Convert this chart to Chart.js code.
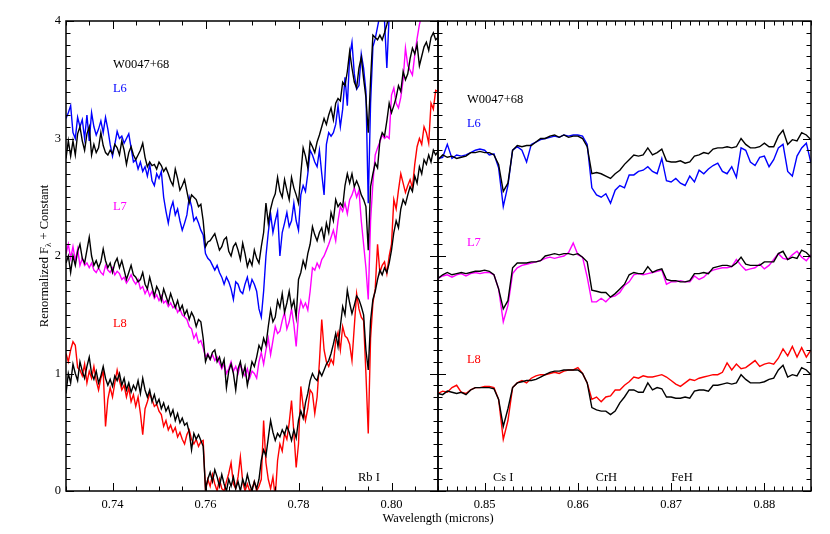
<!DOCTYPE html>
<html>
<head>
<meta charset="utf-8">
<script src="https://cdn.jsdelivr.net/npm/chart.js@4.4.1/dist/chart.umd.min.js"></script>
<style>
  body { margin: 0; background: #fff; }
  #wrap { position: relative; width: 830px; height: 534px; }
  #wrap canvas { position: absolute; left: 0; top: 0; }
</style>
</head>
<body>
<div id="wrap">
  <canvas id="left-chart" width="830" height="534"></canvas>
  <canvas id="right-chart" width="830" height="534"></canvas>
</div>
<script>
// wavelength grids (microns), sampled every 0.0005
const leftStart = 0.73, rightStart = 0.845, waveStep = 0.0005;
const leftCount = 161, rightCount = 81;

// tick labels
const leftTicks = [0.74, 0.76, 0.78, 0.80];
const rightTicks = [0.85, 0.86, 0.87, 0.88];
const yTicks = [0, 1, 2, 3, 4];

// left panel, 0.73 - 0.81
const leftL6 = [
  3.17,3.22,3.28,3.05,3.00,3.18,3.10,3.16,3.00,3.20,
  2.98,3.22,3.10,3.03,3.08,3.15,3.05,3.18,3.08,2.95,
  2.85,2.95,3.06,3.00,3.02,2.96,3.00,3.04,2.92,2.80,
  2.82,2.74,2.80,2.72,2.76,2.68,2.78,2.64,2.60,2.70,
  2.66,2.72,2.50,2.38,2.28,2.40,2.46,2.35,2.40,2.30,
  2.22,2.28,2.35,2.50,2.42,2.30,2.33,2.28,2.22,2.18,
  2.02,1.98,1.96,1.92,1.88,1.92,1.86,1.82,1.76,1.82,
  1.78,1.72,1.63,1.78,1.76,1.70,1.68,1.76,1.82,1.72,
  1.80,1.76,1.70,1.55,1.48,1.70,2.00,2.20,2.36,2.20,
  2.30,2.38,2.00,2.20,2.28,2.37,2.25,2.30,2.45,2.30,
  2.22,2.52,2.60,2.55,2.70,2.90,2.86,2.80,2.76,2.90,
  2.70,2.52,2.95,3.05,3.02,3.05,3.12,3.28,3.10,3.25,
  3.52,3.28,3.70,3.82,3.55,3.42,3.45,3.72,3.60,3.40,
  2.45,3.30,3.78,3.85,3.95,4.05,4.10,4.00,3.60,4.05,
  4.20,4.25,4.30,4.35,4.30,4.40,4.45,4.40,4.50,4.50,
  4.55,4.60,4.60,4.65,4.70,4.70,4.75,4.80,4.80,4.85,
  4.90
];
const leftW6 = [
  2.83,2.98,2.85,2.98,2.86,3.04,3.10,2.98,2.90,3.04,
  3.10,2.86,2.95,2.88,2.92,3.05,2.94,2.88,2.86,2.90,
  2.87,2.95,2.92,2.86,2.98,2.90,2.78,2.88,2.93,2.86,
  2.82,2.86,2.90,2.96,2.84,2.76,2.80,2.77,2.78,2.74,
  2.80,2.77,2.72,2.75,2.70,2.64,2.60,2.74,2.66,2.56,
  2.60,2.65,2.55,2.45,2.52,2.50,2.48,2.42,2.44,2.30,
  2.08,2.12,2.13,2.16,2.19,2.12,2.05,2.08,2.14,2.16,
  2.04,2.00,2.08,2.11,2.05,1.97,2.11,2.02,1.91,1.97,
  1.92,2.05,1.98,1.94,2.08,2.20,2.45,2.28,2.40,2.48,
  2.53,2.67,2.55,2.50,2.65,2.56,2.48,2.67,2.58,2.52,
  2.45,2.70,2.92,2.85,2.75,2.97,2.93,2.88,2.97,3.03,
  3.10,3.17,3.12,3.20,3.26,3.16,3.30,3.34,3.32,3.48,
  3.45,3.57,3.74,3.60,3.48,3.43,3.60,3.69,3.51,3.35,
  3.05,3.50,3.88,3.86,3.84,3.88,3.84,3.90,3.97,4.05,
  4.10,4.12,4.15,4.20,4.18,4.25,4.30,4.28,4.35,4.38,
  4.40,4.42,4.45,4.50,4.48,4.55,4.58,4.60,4.62,4.65,
  4.68
];
const leftL7 = [
  2.02,2.10,1.98,2.08,1.96,2.06,1.92,1.98,1.92,1.94,
  1.90,1.94,1.88,1.86,1.90,1.86,1.84,1.92,1.88,1.86,
  1.90,1.84,1.87,1.85,1.80,1.82,1.77,1.80,1.84,1.79,
  1.76,1.80,1.72,1.74,1.68,1.72,1.66,1.70,1.64,1.67,
  1.62,1.66,1.60,1.62,1.57,1.60,1.56,1.58,1.52,1.55,
  1.50,1.48,1.46,1.40,1.38,1.30,1.34,1.26,1.28,1.22,
  1.14,1.17,1.12,1.16,1.11,1.14,1.09,1.04,1.08,1.00,
  1.04,1.10,1.02,1.06,1.00,1.08,1.02,0.98,1.04,0.96,
  1.02,1.00,0.96,1.10,1.18,1.08,1.20,1.30,1.16,1.28,
  1.40,1.34,1.36,1.45,1.52,1.38,1.44,1.55,1.42,1.23,
  1.50,1.62,1.56,1.60,1.54,1.70,1.90,1.88,1.94,1.90,
  1.97,2.00,2.05,2.10,2.16,2.22,2.13,2.30,2.42,2.38,
  2.45,2.36,2.48,2.52,2.58,2.50,2.56,2.30,2.10,1.90,
  1.63,2.30,2.62,2.86,2.92,2.97,3.03,3.00,3.02,3.00,
  3.37,3.43,3.30,3.26,3.35,3.50,3.77,3.62,3.58,3.54,
  3.71,3.85,3.97,4.05,4.10,4.15,4.20,4.25,4.30,4.35,
  4.40
];
const leftW7 = [
  1.94,2.00,1.86,2.00,1.92,2.04,2.10,1.98,1.94,2.05,
  2.16,2.00,1.92,1.96,1.90,1.95,2.06,1.96,1.90,1.94,
  1.86,1.94,1.98,1.90,1.96,1.88,1.80,1.86,1.92,1.84,
  1.82,1.78,1.80,1.86,1.76,1.72,1.82,1.74,1.66,1.74,
  1.70,1.62,1.72,1.66,1.60,1.68,1.62,1.56,1.62,1.54,
  1.58,1.50,1.54,1.46,1.52,1.48,1.40,1.46,1.44,1.30,
  1.10,1.16,1.12,1.18,1.20,1.10,1.14,1.06,1.12,0.88,
  1.02,1.08,1.00,0.86,1.04,1.10,0.98,1.06,0.90,1.00,
  1.10,1.06,1.14,1.24,1.20,1.30,1.24,1.40,1.54,1.44,
  1.48,1.62,1.56,1.68,1.52,1.60,1.70,1.56,1.62,1.48,
  1.80,1.86,1.96,1.90,2.02,2.10,2.25,2.18,2.13,2.20,
  2.24,2.14,2.28,2.20,2.37,2.30,2.48,2.42,2.45,2.42,
  2.60,2.70,2.62,2.70,2.59,2.64,2.59,2.52,2.48,2.42,
  2.05,2.59,2.70,2.79,2.75,2.98,3.05,3.02,3.15,3.30,
  3.22,3.28,3.35,3.45,3.40,3.57,3.50,3.55,3.68,3.77,
  3.72,3.80,3.62,3.70,3.78,3.82,3.75,3.86,3.90,3.84,
  3.86
];
const leftL8 = [
  1.17,1.10,1.20,1.27,1.24,1.05,1.03,0.98,1.08,0.92,
  1.02,0.96,1.06,0.94,0.86,0.96,1.02,0.55,0.78,0.88,
  0.80,0.92,1.03,0.94,0.86,0.90,0.80,0.88,0.76,0.82,
  0.72,0.80,0.66,0.48,0.70,0.76,0.83,0.78,0.72,0.74,
  0.68,0.65,0.55,0.60,0.52,0.56,0.50,0.54,0.46,0.50,
  0.44,0.40,0.48,0.52,0.44,0.40,0.44,0.38,0.42,0.43,
  0.00,0.10,0.04,0.14,0.06,0.00,0.10,0.02,0.00,0.08,
  0.15,0.24,0.06,0.02,0.12,0.29,0.08,0.00,0.06,0.00,
  0.02,0.08,0.00,0.04,0.10,0.60,0.24,0.10,0.02,0.12,
  -0.05,0.26,0.40,0.34,0.49,0.44,0.58,0.77,0.50,0.20,
  0.40,0.89,0.72,0.60,0.70,0.86,0.83,0.66,0.80,1.10,
  1.46,1.20,1.10,1.06,1.12,1.08,1.28,1.35,1.20,1.40,
  1.32,1.30,1.25,1.11,1.40,1.68,1.55,1.48,1.45,1.00,
  0.49,1.30,1.60,1.72,2.10,1.86,1.92,1.95,1.85,2.00,
  2.10,2.48,2.40,2.56,2.70,2.62,2.54,2.60,2.65,2.58,
  2.78,2.93,3.00,2.95,3.10,3.05,2.96,3.30,3.25,3.41,
  3.40
];
const leftW8 = [
  0.83,1.00,0.92,1.08,1.00,0.94,1.10,1.02,0.96,1.06,
  1.14,1.00,0.95,1.02,0.92,0.98,1.06,0.96,0.90,0.95,
  0.89,0.98,0.94,1.00,0.90,0.96,0.86,0.92,0.84,0.90,
  0.86,0.94,0.83,0.96,0.86,0.80,0.86,0.76,0.82,0.74,
  0.78,0.70,0.75,0.68,0.72,0.64,0.69,0.60,0.66,0.58,
  0.62,0.56,0.58,0.50,0.35,0.49,0.44,0.48,0.43,0.38,
  0.02,0.10,0.16,0.08,0.18,0.12,0.04,0.14,0.06,0.00,
  0.10,0.04,0.12,0.02,0.08,0.00,0.10,0.04,0.14,0.06,
  0.00,0.08,0.02,0.10,0.26,0.35,0.30,0.45,0.60,0.50,
  0.43,0.49,0.46,0.52,0.48,0.55,0.50,0.43,0.52,0.45,
  0.60,0.68,0.62,0.75,0.83,0.94,1.00,0.96,0.94,1.02,
  0.98,1.03,1.08,1.11,1.17,1.25,1.34,1.23,1.40,1.57,
  1.50,1.71,1.60,1.51,1.58,1.66,1.63,1.57,1.50,1.20,
  1.03,1.45,1.63,1.70,1.80,1.88,1.84,1.90,1.86,1.94,
  2.05,2.20,2.30,2.24,2.40,2.48,2.44,2.52,2.59,2.55,
  2.68,2.62,2.76,2.70,2.82,2.78,2.86,2.80,2.90,2.86,
  2.89
];

// right panel, 0.845 - 0.885
const rightL6 = [
  2.83,2.84,2.95,2.83,2.86,2.85,2.86,2.88,2.90,2.91,
  2.90,2.86,2.87,2.75,2.42,2.60,2.90,2.93,2.90,2.80,
  2.95,2.97,2.99,3.00,3.01,3.02,3.01,3.03,3.02,3.03,
  3.03,3.02,2.95,2.58,2.52,2.50,2.53,2.45,2.56,2.60,
  2.58,2.69,2.69,2.72,2.73,2.76,2.72,2.70,2.83,2.64,
  2.63,2.66,2.62,2.60,2.68,2.63,2.73,2.70,2.74,2.77,
  2.79,2.72,2.70,2.76,2.67,2.92,2.90,2.80,2.77,2.84,
  2.85,2.76,2.82,2.92,2.95,2.72,2.68,2.85,2.92,2.96,
  2.79
];
const rightW6 = [
  2.82,2.86,2.84,2.85,2.83,2.84,2.85,2.88,2.88,2.89,
  2.88,2.88,2.86,2.78,2.55,2.62,2.90,2.94,2.93,2.94,
  2.94,2.97,3.00,3.00,3.02,3.03,3.01,3.03,3.01,3.02,
  3.02,3.00,2.93,2.70,2.71,2.70,2.68,2.66,2.70,2.73,
  2.78,2.82,2.86,2.85,2.86,2.92,2.86,2.88,2.91,2.81,
  2.80,2.80,2.81,2.79,2.80,2.85,2.86,2.88,2.87,2.91,
  2.92,2.92,2.93,2.92,2.93,3.00,2.95,2.92,2.92,2.93,
  2.96,2.93,2.93,3.02,3.07,2.95,2.99,2.98,3.05,3.03,
  2.99
];
const rightL7 = [
  1.81,1.83,1.84,1.82,1.84,1.85,1.83,1.85,1.86,1.85,
  1.86,1.86,1.84,1.72,1.44,1.58,1.85,1.90,1.92,1.93,
  1.94,1.95,1.96,1.98,1.99,1.98,1.99,2.00,2.03,2.11,
  2.01,1.99,1.82,1.61,1.61,1.64,1.61,1.65,1.66,1.69,
  1.75,1.78,1.84,1.85,1.84,1.85,1.86,1.87,1.88,1.76,
  1.78,1.78,1.79,1.78,1.78,1.83,1.80,1.82,1.86,1.88,
  1.89,1.90,1.90,1.91,1.97,1.92,1.88,1.89,1.90,1.93,
  1.89,1.92,1.97,2.02,1.98,1.97,2.01,2.04,1.99,1.96,
  2.01
];
const rightW7 = [
  1.81,1.84,1.86,1.84,1.85,1.86,1.85,1.86,1.87,1.87,
  1.88,1.87,1.84,1.72,1.55,1.62,1.90,1.94,1.94,1.94,
  1.95,1.95,1.96,2.00,2.01,2.02,2.01,2.02,2.02,2.01,
  2.02,1.99,1.95,1.71,1.70,1.69,1.69,1.65,1.68,1.72,
  1.76,1.84,1.86,1.85,1.85,1.91,1.86,1.88,1.89,1.80,
  1.79,1.79,1.78,1.78,1.79,1.85,1.85,1.86,1.85,1.90,
  1.91,1.92,1.92,1.91,1.94,1.99,1.93,1.92,1.92,1.92,
  1.95,1.95,1.95,2.02,2.04,1.97,1.99,1.98,2.05,2.03,
  1.99
];
const rightL8 = [
  0.83,0.85,0.84,0.88,0.90,0.84,0.83,0.86,0.88,0.88,
  0.89,0.89,0.88,0.78,0.44,0.60,0.88,0.92,0.94,0.92,
  0.96,0.98,0.99,0.99,1.00,1.01,1.00,1.02,1.03,1.03,
  1.05,1.00,0.92,0.78,0.80,0.76,0.80,0.81,0.86,0.86,
  0.90,0.93,0.97,0.96,0.98,0.97,0.97,0.98,0.99,0.97,
  0.94,0.91,0.89,0.92,0.95,0.94,0.96,0.97,0.98,0.99,
  0.99,1.01,1.09,1.03,1.08,1.04,1.05,1.08,1.11,1.06,
  1.08,1.09,1.08,1.13,1.21,1.15,1.23,1.14,1.22,1.14,
  1.20
];
const rightW8 = [
  0.83,0.82,0.85,0.84,0.83,0.84,0.82,0.86,0.88,0.88,
  0.88,0.88,0.87,0.78,0.55,0.70,0.88,0.92,0.93,0.94,
  0.94,0.95,0.97,0.99,1.01,1.02,1.02,1.03,1.03,1.03,
  1.03,1.00,0.92,0.71,0.69,0.68,0.68,0.65,0.68,0.75,
  0.80,0.86,0.86,0.84,0.84,0.92,0.86,0.88,0.87,0.80,
  0.80,0.79,0.79,0.80,0.79,0.85,0.86,0.86,0.85,0.90,
  0.90,0.91,0.92,0.91,0.92,0.99,0.95,0.92,0.92,0.92,
  0.93,0.95,0.96,1.03,1.07,0.97,0.99,0.98,1.05,1.03,
  0.99
];

// text labels: [text, wavelength, value, colour]
const leftNotes = [
  ['W0047+68', 0.7401, 3.60, '#000'],
  ['L6', 0.7401, 3.40, '#0000ff'],
  ['L7', 0.7401, 2.39, '#ff00ff'],
  ['L8', 0.7401, 1.40, '#ff0000'],
  ['Rb I', 0.7928, 0.085, '#000']
];
const rightNotes = [
  ['W0047+68', 0.8481, 3.30, '#000'],
  ['L6', 0.8481, 3.10, '#0000ff'],
  ['L7', 0.8481, 2.085, '#ff00ff'],
  ['L8', 0.8481, 1.09, '#ff0000'],
  ['Cs I', 0.8509, 0.085, '#000'],
  ['CrH', 0.8619, 0.085, '#000'],
  ['FeH', 0.8700, 0.085, '#000']
];

const serif = '"Liberation Serif", "Times New Roman", serif';
const fontSize = 12.5;
const colL6 = '#0000ff', colL7 = '#ff00ff', colL8 = '#ff0000', colW = '#000000';

const leftWave = Array.from({ length: leftCount }, (_, i) => +(leftStart + waveStep * i).toFixed(4));
const rightWave = Array.from({ length: rightCount }, (_, i) => +(rightStart + waveStep * i).toFixed(4));

function toPoints(wave, vals) {
  return vals.map((v, i) => ({ x: wave[i], y: v }));
}

function spectrum(wave, vals, color, order) {
  return {
    data: toPoints(wave, vals),
    borderColor: color,
    borderWidth: 1.4,
    pointRadius: 0,
    tension: 0,
    fill: false,
    order: order
  };
}

// frame with inward ticks on all four sides
function framePlugin(xMinor, xMajor) {
  return {
    id: 'frame',
    afterDatasetsDraw(chart) {
      const { ctx, chartArea: a, scales: { x, y } } = chart;
      ctx.save();
      ctx.strokeStyle = '#000';
      ctx.lineWidth = 1;
      ctx.beginPath();
      for (let k = 0; k <= 40; k++) {
        const py = Math.round(y.getPixelForValue(k / 10)) + 0.5;
        const len = k % 10 === 0 ? 8 : 4.5;
        ctx.moveTo(a.left, py); ctx.lineTo(a.left + len, py);
        ctx.moveTo(a.right, py); ctx.lineTo(a.right - len, py);
      }
      const n = Math.round((x.max - x.min) / xMinor);
      for (let k = 0; k <= n; k++) {
        const v = x.min + k * xMinor;
        const r = v / xMajor;
        const major = Math.abs(r - Math.round(r)) < 1e-6;
        const px = Math.round(x.getPixelForValue(v)) + 0.5;
        const len = major ? 8 : 4.5;
        ctx.moveTo(px, a.bottom); ctx.lineTo(px, a.bottom - len);
        ctx.moveTo(px, a.top); ctx.lineTo(px, a.top + len);
      }
      ctx.stroke();
      ctx.lineWidth = 1.5;
      ctx.strokeRect(a.left, a.top, a.right - a.left, a.bottom - a.top);
      ctx.restore();
    }
  };
}

function notesPlugin(notes, withTitles) {
  return {
    id: 'notes',
    afterDraw(chart) {
      const { ctx, scales: { x, y } } = chart;
      ctx.save();
      ctx.font = fontSize + 'px ' + serif;
      ctx.textBaseline = 'alphabetic';
      ctx.textAlign = 'left';
      notes.forEach(([t, wx, wy, c]) => {
        ctx.fillStyle = c;
        ctx.fillText(t, x.getPixelForValue(wx), y.getPixelForValue(wy));
      });
      if (withTitles) {
        ctx.fillStyle = '#000';
        ctx.textAlign = 'center';
        ctx.fillText('Wavelength (microns)', 438, 522);
        // rotated y title with subscript lambda
        const parts = [['Renormalized F', fontSize, 0], ['\u03bb', 9, 3], [' + Constant', fontSize, 0]];
        let total = 0;
        parts.forEach(p => { ctx.font = p[1] + 'px ' + serif; p.push(ctx.measureText(p[0]).width); total += p[3]; });
        ctx.translate(43, 256);
        ctx.rotate(-Math.PI / 2);
        ctx.textAlign = 'left';
        let cx = -total / 2;
        parts.forEach(p => {
          ctx.font = p[1] + 'px ' + serif;
          ctx.fillText(p[0], cx, 4.5 + p[2]);
          cx += p[3];
        });
      }
      ctx.restore();
    }
  };
}

const tickFont = { family: serif, size: fontSize };

new Chart(document.getElementById('left-chart'), {
  type: 'line',
  data: {
    datasets: [
      spectrum(leftWave, leftW6, colW, 0),
      spectrum(leftWave, leftW7, colW, 0),
      spectrum(leftWave, leftW8, colW, 0),
      spectrum(leftWave, leftL6, colL6, 1),
      spectrum(leftWave, leftL7, colL7, 1),
      spectrum(leftWave, leftL8, colL8, 1)
    ]
  },
  options: {
    responsive: false,
    animation: false,
    events: [],
    layout: { padding: { left: 0, top: 21, right: 392, bottom: 0 } },
    plugins: { legend: { display: false }, tooltip: { enabled: false } },
    scales: {
      x: {
        type: 'linear', min: 0.73, max: 0.81,
        grid: { display: false, drawTicks: false }, border: { display: false },
        afterBuildTicks: s => { s.ticks = leftTicks.map(v => ({ value: v })); },
        afterFit: s => { s.height = 43; },
        ticks: { padding: 6, maxRotation: 0, autoSkip: false, color: '#000', font: tickFont, callback: v => v.toFixed(2) }
      },
      y: {
        min: 0, max: 4,
        grid: { display: false, drawTicks: false }, border: { display: false },
        afterBuildTicks: s => { s.ticks = yTicks.map(v => ({ value: v })); },
        afterFit: s => { s.width = 66; },
        ticks: { padding: 5, color: '#000', font: tickFont, callback: v => String(v) }
      }
    }
  },
  plugins: [framePlugin(0.005, 0.02), notesPlugin(leftNotes, true)]
});

new Chart(document.getElementById('right-chart'), {
  type: 'line',
  data: {
    datasets: [
      spectrum(rightWave, rightW6, colW, 0),
      spectrum(rightWave, rightW7, colW, 0),
      spectrum(rightWave, rightW8, colW, 0),
      spectrum(rightWave, rightL6, colL6, 1),
      spectrum(rightWave, rightL7, colL7, 1),
      spectrum(rightWave, rightL8, colL8, 1)
    ]
  },
  options: {
    responsive: false,
    animation: false,
    events: [],
    layout: { padding: { left: 438, top: 21, right: 19, bottom: 0 } },
    plugins: { legend: { display: false }, tooltip: { enabled: false } },
    scales: {
      x: {
        type: 'linear', min: 0.845, max: 0.885,
        grid: { display: false, drawTicks: false }, border: { display: false },
        afterBuildTicks: s => { s.ticks = rightTicks.map(v => ({ value: v })); },
        afterFit: s => { s.height = 43; },
        ticks: { padding: 6, maxRotation: 0, autoSkip: false, color: '#000', font: tickFont, callback: v => v.toFixed(2) }
      },
      y: { display: false, min: 0, max: 4 }
    }
  },
  plugins: [framePlugin(0.001, 0.01), notesPlugin(rightNotes, false)]
});
</script>
</body>
</html>
